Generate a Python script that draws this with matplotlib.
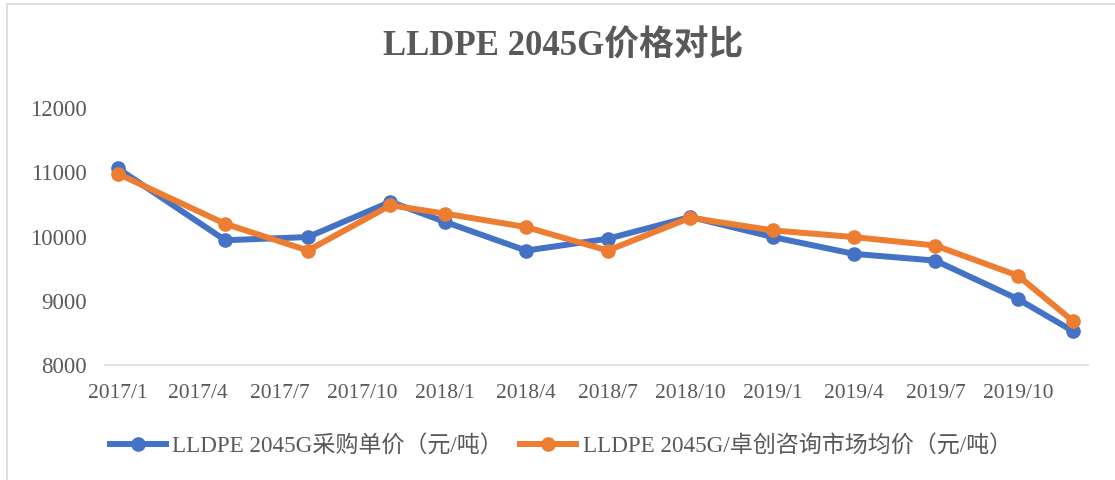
import matplotlib
matplotlib.use("Agg")
import matplotlib.pyplot as plt
from matplotlib.patches import Rectangle
import pandas as pd

# ---- data ----
dates = ["2017-01-01", "2017-05-01", "2017-08-01", "2017-11-01", "2018-01-01",
         "2018-04-01", "2018-07-01", "2018-10-01", "2019-01-01", "2019-04-01",
         "2019-07-01", "2019-10-01", "2019-12-01"]
purchase_price = [11050, 9930, 9980, 10527, 10214, 9770, 9953, 10292,
                  9980, 9719, 9614, 9016, 8520]
market_price = [10965, 10185, 9770, 10473, 10344, 10135, 9770, 10280,
                10083, 9980, 9848, 9380, 8677]
tick_labels = ["2017/1", "2017/4", "2017/7", "2017/10", "2018/1", "2018/4",
               "2018/7", "2018/10", "2019/1", "2019/4", "2019/7", "2019/10"]
y_ticks = [8000, 9000, 10000, 11000, 12000]
series_names = ["LLDPE 2045G采购单价（元/吨）",
                "LLDPE 2045G/卓创咨询市场均价（元/吨）"]
title = "LLDPE 2045G价格对比"

BLUE = "#4472C4"
ORANGE = "#ED7D31"
TXT = "#595959"
FONTS = ["Liberation Serif", "Noto Sans CJK SC", "DejaVu Sans"]

x = pd.to_datetime(dates)
xt = pd.to_datetime(tick_labels, format="%Y/%m")

W, H = 1115, 481
fig = plt.figure(figsize=(W / 100, H / 100), dpi=100)
fig.patch.set_facecolor("white")

# chart-area border (partly cut off on right/bottom)
fig.patches.append(Rectangle((7 / W, -0.1), 1.2, 1.1 - 5 / H, transform=fig.transFigure,
                             fill=False, edgecolor="#D9D9D9", linewidth=1.2))

ax = fig.add_axes([105 / W, 115.5 / H, (1088 - 105) / W, (373 - 115.5) / H])
ax.plot(x, purchase_price, color=BLUE, lw=4.3, marker="o", ms=9.5, label=series_names[0],
        solid_joinstyle="round", zorder=3)
ax.plot(x, market_price, color=ORANGE, lw=4.3, marker="o", ms=9.5, label=series_names[1],
        solid_joinstyle="round", zorder=4)

ax.set_ylim(8000, 12000)
ax.set_yticks(y_ticks)
ax.set_xlim(pd.Timestamp("2016-12-18"), pd.Timestamp("2019-12-18"))
ax.set_xticks(xt)
ax.set_xticklabels(tick_labels)

for s in ["top", "right", "left"]:
    ax.spines[s].set_visible(False)
ax.spines["bottom"].set_color("#D9D9D9")
ax.spines["bottom"].set_linewidth(1.2)
ax.tick_params(axis="both", length=0, colors=TXT)
ax.tick_params(axis="x", pad=13)
ax.tick_params(axis="y", pad=13)
for lab in ax.get_xticklabels():
    lab.set_family(FONTS)
    lab.set_fontsize(15.5)
    lab.set_color(TXT)
for lab in ax.get_yticklabels():
    lab.set_family(FONTS)
    lab.set_fontsize(16.5)
    lab.set_color(TXT)

fig.text(0.505, 0.902, title, ha="center", va="center", fontsize=25,
         family=FONTS, color=TXT, fontweight="bold")

leg = fig.legend(loc="center", bbox_to_anchor=(561 / W, 34 / H), ncol=2, frameon=False,
                 prop={"family": FONTS, "size": 16.6}, handlelength=2.4,
                 handletextpad=0.3, columnspacing=0.75)
for t in leg.get_texts():
    t.set_color(TXT)

fig.savefig("out.png", dpi=100, facecolor="white")
